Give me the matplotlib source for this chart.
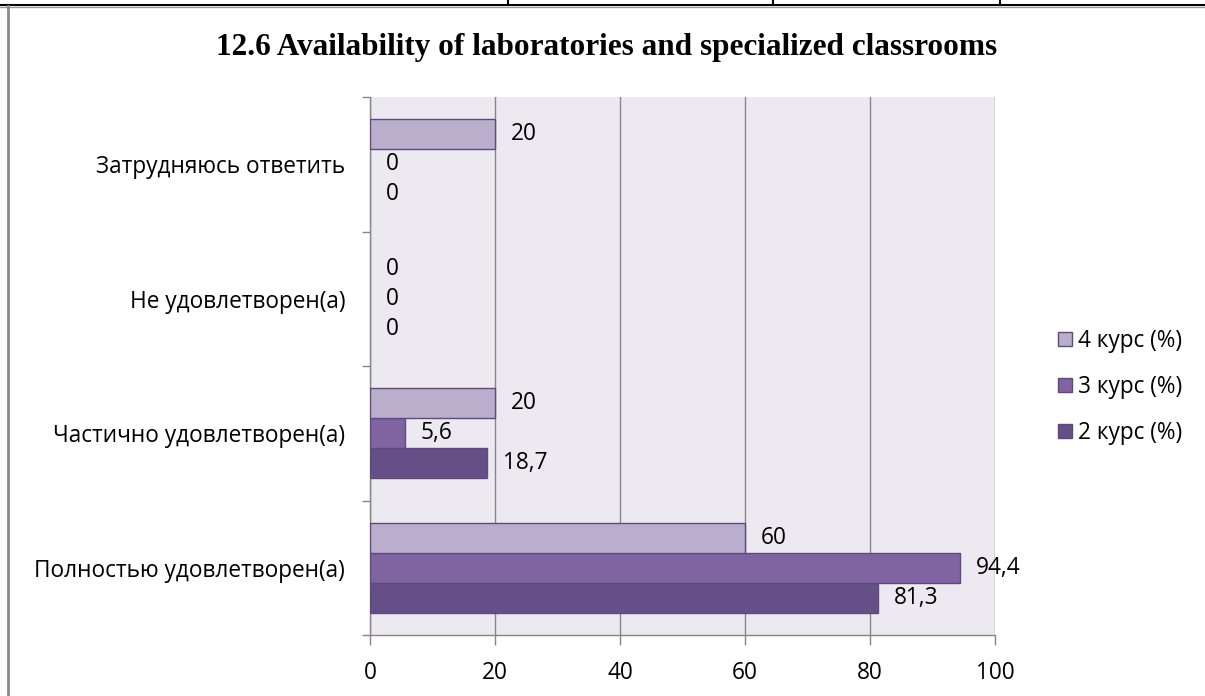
import matplotlib
matplotlib.use("Agg")
import matplotlib.pyplot as plt
from matplotlib.lines import Line2D
import numpy as np

categories = ["Полностью удовлетворен(а)", "Частично удовлетворен(а)",
              "Не удовлетворен(а)", "Затрудняюсь ответить"]
series_names = ["2 курс (%)", "3 курс (%)", "4 курс (%)"]
values_2 = [81.3, 18.7, 0, 0]
values_3 = [94.4, 5.6, 0, 0]
values_4 = [60, 20, 0, 20]
value_labels_2 = ["81,3", "18,7", "0", "0"]
value_labels_3 = ["94,4", "5,6", "0", "0"]
value_labels_4 = ["60", "20", "0", "20"]
x_ticks = [0, 20, 40, 60, 80, 100]
title = "12.6 Availability of laboratories and specialized classrooms"

colors = ["#664F86", "#8064A2", "#B9AECB"]
edge = "#5E4A7C"
font = ["Open Sans", "DejaVu Sans"]
fs = 16.3

W, H = 1205, 696
fig = plt.figure(figsize=(W / 100, H / 100), dpi=100)
fig.patch.set_facecolor("white")

# page/table border decorations
def px_line(x0, y0, x1, y1, color, lw):
    fig.add_artist(Line2D([x0 / W, x1 / W], [1 - y0 / H, 1 - y1 / H],
                          transform=fig.transFigure, color=color, lw=lw))

px_line(0, 5, W, 5, "black", 1.5)
px_line(0, 7, W, 7, "#9a9a9a", 1.0)
for xv in [508, 773, 1000]:
    px_line(xv, 0, xv, 5, "black", 1.5)
px_line(8, 6, 8, H, "#8a8a8a", 2.0)

ax = fig.add_axes([370 / W, 1 - 635 / H, (995 - 370) / W, (635 - 97) / H])
ax.set_facecolor("#ECEAF0")

y = np.arange(len(categories))
bh = 0.223
series = [(values_2, value_labels_2), (values_3, value_labels_3), (values_4, value_labels_4)]
offsets = [-bh, 0, bh]
handles = []
for (vals, labs), off, c, name in zip(series, offsets, colors, series_names):
    lws = [1.0 if v > 0 else 0 for v in vals]
    b = ax.barh(y + off, vals, height=bh, color=c, edgecolor=edge, linewidth=lws,
                label=name, zorder=3)
    handles.append(b)
    for yi, v, lab in zip(y, vals, labs):
        ax.annotate(lab, xy=(v, yi + off), xytext=(11.5, 0), textcoords="offset points",
                    ha="left", va="center", fontsize=fs, family=font, color="black",
                    zorder=4)

ax.set_xlim(0, 100)
ax.set_ylim(-0.5, len(categories) - 0.5)
ax.set_xticks(x_ticks)
ax.set_xticklabels([str(t) for t in x_ticks], fontsize=fs, family=font)
ax.set_yticks(y)
ax.set_yticklabels(categories, fontsize=fs, family=font)
ax.set_yticks(np.arange(-0.5, len(categories), 1.0), minor=True)
ax.tick_params(axis="y", which="major", length=0, pad=18)
ax.tick_params(axis="y", which="minor", length=6, color="#868686", width=1.0)
ax.tick_params(axis="x", which="major", length=7, color="#868686", width=1.0, pad=12)
ax.xaxis.grid(True, color="#868686", lw=1.0, zorder=1)
ax.set_axisbelow(True)
for s in ["top", "right"]:
    ax.spines[s].set_visible(False)
for s in ["left", "bottom"]:
    ax.spines[s].set_color("#868686")
    ax.spines[s].set_linewidth(1.0)

fig.text(607 / W, 1 - 48 / H, title, ha="center", va="center",
         fontsize=22.5, fontweight="bold", family="Liberation Serif")

leg = fig.legend(handles[::-1], series_names[::-1], loc="center left",
                 bbox_to_anchor=(1038 / W, 1 - 387 / H), frameon=False,
                 prop={"family": font, "size": fs}, handlelength=0.6,
                 handleheight=0.6, handletextpad=0.25, labelspacing=0.97)

fig.savefig("out.png", dpi=100)
